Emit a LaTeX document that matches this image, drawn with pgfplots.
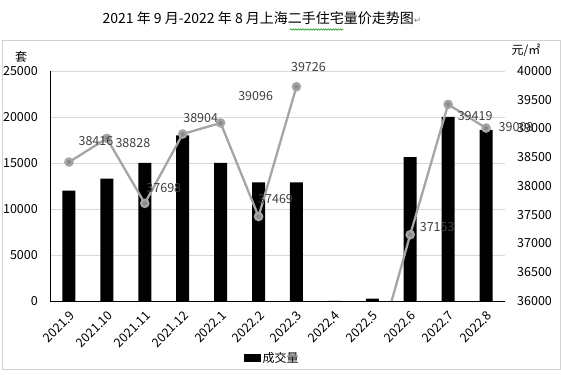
\documentclass[border=0pt]{standalone}
\usepackage{fontspec}
\setmainfont{Noto Sans CJK SC}
\newfontfamily\dejavu{DejaVu Sans}
\usepackage{pgfplots}
\usepackage{pgfplotstable}
\pgfplotsset{compat=1.18}
\usetikzlibrary{decorations.pathmorphing}

\definecolor{gridc}{HTML}{D9D9D9}
\definecolor{linec}{HTML}{A5A5A5}
\definecolor{markc}{HTML}{8A8A8A}
\definecolor{labc}{HTML}{404040}

\pgfplotstableread{
x vol
0 12000
1 13300
2 15000
3 18000
4 15000
5 12900
6 12900
7 0
8 250
9 15650
10 20000
11 18590
}\voltable

\pgfplotstableread{
x price
0 38416
1 38828
2 37698
3 38904
4 39096
5 37469
6 39726
7 nan
8 34800
9 37153
10 39419
11 39008
}\pricetable

\pgfplotstableread{
x price dx dy
0 38416 27 21
1 38828 26 -5
2 37698 19 15
3 38904 18 16
4 39096 35 27
5 37469 17 17
6 39726 12 20
9 37153 27 8
10 39419 27 -12
11 39008 30 1
}\labeltable

\begin{document}
\begin{tikzpicture}
\path (0pt,0pt) rectangle (561pt,374pt);
\draw[gray!35, line width=0.8pt] (2pt,5pt) rectangle (560pt,334pt);
\node[font=\fontsize{14}{16}\selectfont, inner sep=0pt] at (262pt,356pt) {2021 年 9 月-2022 年 8 月上海二手住宅量价走势图{\dejavu\fontsize{9}{10}\selectfont\color{gray}↵}};
\draw[green!55!black, line width=0.5pt, decorate, decoration={snake, amplitude=0.7pt, segment length=2.5pt}] (290pt,344.5pt) -- (343pt,344.5pt);
\node[font=\fontsize{12}{14}\selectfont] at (21pt,317pt) {套};
\node[font=\fontsize{12}{14}\selectfont] at (526pt,324pt) {元/㎡};

\begin{axis}[
  at={(50pt,73pt)}, anchor=south west,
  width=455pt, height=230pt, scale only axis,
  xmin=-0.5, xmax=11.5,
  ymin=0, ymax=25000,
  ytick={0,5000,10000,15000,20000,25000},
  scaled y ticks=false,
  yticklabel={\pgfmathprintnumber[fixed,1000 sep={},assume math mode=true]{\tick}},
  axis lines=none,
  ymajorgrids, grid style={gridc, line width=0.8pt},
  major tick length=0pt,
  xtick={0,...,11},
  xticklabels={2021.9,2021.10,2021.11,2021.12,2022.1,2022.2,2022.3,2022.4,2022.5,2022.6,2022.7,2022.8},
  xticklabel style={xshift=0pt, yshift=-9pt, rotate=45, anchor=north east, inner sep=0pt, font=\fontsize{12.5}{14}\selectfont},
  yticklabel style={anchor=east, inner sep=0pt, xshift=-12pt, font=\fontsize{12.5}{14}\selectfont},
  hide x axis=false, hide y axis=false,
  legend style={at={(0.488,-0.248)}, anchor=center, draw=none, fill=none, font=\fontsize{12}{14}\selectfont, inner sep=0pt},
  legend image code/.code={\fill[black] (0pt,-4pt) rectangle (17pt,4pt);},
]
\addplot[ybar, bar width=13pt, fill=black, draw=none] table[x=x, y=vol] {\voltable};
\addlegendentry{成交量}
\end{axis}

\begin{axis}[
  at={(50pt,73pt)}, anchor=south west,
  width=455pt, height=230pt, scale only axis,
  xmin=-0.5, xmax=11.5,
  ymin=36000, ymax=40000,
  ytick={36000,36500,37000,37500,38000,38500,39000,39500,40000},
  scaled y ticks=false,
  yticklabel={\pgfmathprintnumber[fixed,1000 sep={},assume math mode=true]{\tick}},
  axis x line=none, axis y line*=right, y axis line style={draw=none},
  major tick length=0pt, xtick=\empty,
  yticklabel style={anchor=west, inner sep=0pt, xshift=12pt, font=\fontsize{12.5}{14}\selectfont},
  unbounded coords=jump,
]
\addplot[linec, line width=2.3pt, mark=*, mark size=3.6pt, mark options={fill=markc, draw=none}] table[x=x, y=price] {\pricetable};
\end{axis}

\begin{axis}[
  at={(50pt,73pt)}, anchor=south west,
  width=455pt, height=230pt, scale only axis,
  xmin=-0.5, xmax=11.5,
  ymin=36000, ymax=40000,
  axis lines=none, clip=false,
]
\addplot[draw=none, mark=none,
  visualization depends on={\thisrow{dx} \as \dx},
  visualization depends on={\thisrow{dy} \as \dy},
  nodes near coords, point meta=explicit symbolic,
  every node near coord/.append style={anchor=center, inner sep=0pt, xshift=\dx pt, yshift=\dy pt, text=labc, font=\fontsize{12.5}{14}\selectfont},
] table[x=x, y=price, meta=price] {\labeltable};
\end{axis}
\end{tikzpicture}
\end{document}
